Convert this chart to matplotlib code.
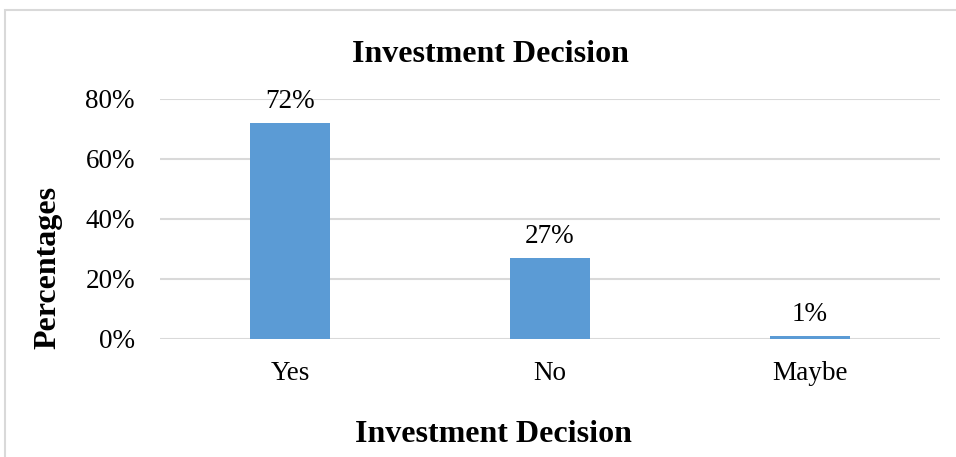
import matplotlib
matplotlib.use("Agg")
import matplotlib.pyplot as plt
from matplotlib.patches import Rectangle
from matplotlib.ticker import PercentFormatter

categories = ["Yes", "No", "Maybe"]
values = [0.72, 0.27, 0.01]
labels = ["72%", "27%", "1%"]
yticks = [0, 0.2, 0.4, 0.6, 0.8]

plt.rcParams['font.family'] = ['Liberation Serif', 'DejaVu Serif']

W, H = 956, 457
fig = plt.figure(figsize=(W/100, H/100), dpi=100)
ax = fig.add_axes([160/W, 1-339/H, 780/W, 240/H])

x = range(len(categories))
ax.bar(x, values, width=0.31, color="#5b9bd5", zorder=3)
ax.set_xlim(-0.5, 2.5)
ax.set_ylim(0, 0.8)
ax.set_yticks(yticks)
ax.yaxis.set_major_formatter(PercentFormatter(1.0, decimals=0))
ax.set_xticks(list(x))
ax.set_xticklabels(categories)
ax.tick_params(axis='both', length=0, labelsize=19.5, colors="#000000")
ax.tick_params(axis='x', pad=16)
ax.tick_params(axis='y', pad=18)
for s in ax.spines.values():
    s.set_visible(False)
ax.grid(axis='y', color="#d9d9d9", linewidth=1.5, zorder=0)
ax.set_axisbelow(True)

for xi, v, lab in zip(x, values, labels):
    ax.annotate(lab, (xi, v), xytext=(0, 6.5), textcoords='offset points',
                ha='center', va='bottom', fontsize=19.5)

fig.text(490/W, 1-54/H, "Investment Decision", ha='center', va='center',
         fontsize=23, fontweight='bold')
fig.text(493/W, 1-434/H, "Investment Decision", ha='center', va='center',
         fontsize=23, fontweight='bold')
fig.text(48/W, 1-267/H, "Percentages", ha='center', va='center',
         fontsize=23, fontweight='bold', rotation=90)

fig.patches.append(Rectangle((5/W, -0.1), 1.0, 1-10/H+0.1, transform=fig.transFigure,
                             fill=False, edgecolor="#d9d9d9", linewidth=1.5))

fig.savefig("out.png", dpi=100)
